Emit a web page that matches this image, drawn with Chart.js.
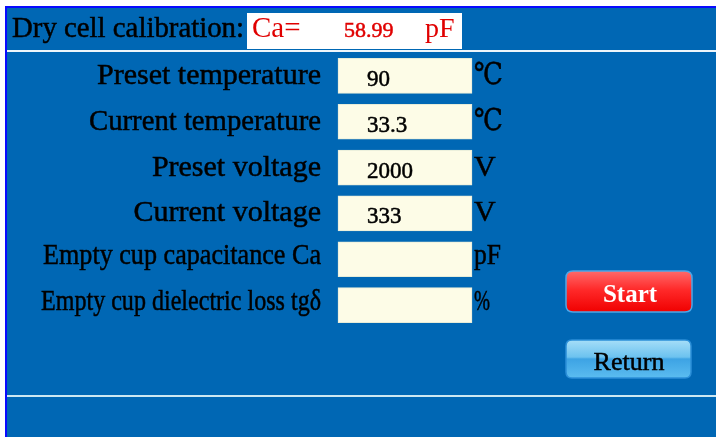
<!DOCTYPE html>
<html>
<head>
<meta charset="utf-8">
<script src="https://cdn.jsdelivr.net/npm/chart.js@4/dist/chart.umd.min.js"></script>
<style>
body{margin:0;background:#fff}
canvas{display:block}
</style>
</head>
<body>
<canvas id="panel" width="716" height="437"></canvas>
<script>
const rowLabels = ["Preset temperature", "Current temperature", "Preset voltage", "Current voltage", "Empty cup capacitance Ca", "Empty cup dielectric loss tgδ"]
const rowValues = [90, 33.3, 2000, 333, null, null]
const rowUnits = ["℃", "℃", "V", "V", "pF", "%"]
const titleText = "Dry cell calibration:"
const caLabel = "Ca="
const caValue = 58.99
const caUnit = "pF"
const buttonLabels = ["Start", "Return"]

const W = 716, H = 437
const serif = '"Liberation Serif", "DejaVu Serif", serif'
// layout of the input boxes and text squeeze (not data)
const boxLeft = 338, boxRight = 472
const labelMaxW = [224, 232, 170, 190, 278, 280]
const unitMaxW = [29, 29, 26, 26, 27, 16]

function pathRound(ctx, x, y, w, h, r){
	ctx.beginPath()
	ctx.moveTo(x + r, y)
	ctx.lineTo(x + w - r, y)
	ctx.quadraticCurveTo(x + w, y, x + w, y + r)
	ctx.lineTo(x + w, y + h - r)
	ctx.quadraticCurveTo(x + w, y + h, x + w - r, y + h)
	ctx.lineTo(x + r, y + h)
	ctx.quadraticCurveTo(x, y + h, x, y + h - r)
	ctx.lineTo(x, y + r)
	ctx.quadraticCurveTo(x, y, x + r, y)
	ctx.closePath()
}

function heavyText(ctx, txt, x, y, maxW){
	ctx.lineWidth = 0.5
	ctx.strokeStyle = ctx.fillStyle
	if(maxW){
		ctx.fillText(txt, x, y, maxW)
		ctx.strokeText(txt, x, y, maxW)
	}
	else{
		ctx.fillText(txt, x, y)
		ctx.strokeText(txt, x, y)
	}
}

const panelPlugin = {
	id: "panel",
	beforeDraw(chart){
		const ctx = chart.ctx
		ctx.save()
		ctx.fillStyle = "#ffffff"
		ctx.fillRect(0, 0, W, H)
		// frame + body
		ctx.fillStyle = "#0a0aff"
		ctx.fillRect(5, 6, W - 5, H - 6)
		ctx.fillStyle = "#0067b4"
		ctx.fillRect(7, 8, W - 7, H - 8)
		ctx.fillStyle = "#eef6fb"
		ctx.fillRect(7, 50, W - 7, 2)
		ctx.fillStyle = "#cde8f2"
		ctx.fillRect(7, 395, W - 7, 2)

		// header
		ctx.textBaseline = "alphabetic"
		ctx.textAlign = "left"
		ctx.fillStyle = "#000"
		ctx.font = "29px " + serif
		heavyText(ctx, titleText, 12, 37, 232)
		ctx.fillStyle = "#ffffff"
		ctx.fillRect(247, 13, 215, 36)
		ctx.fillStyle = "#e00000"
		ctx.font = "29px " + serif
		ctx.fillText(caLabel, 252, 37)
		ctx.font = "22px " + serif
		heavyText(ctx, caValue.toFixed(2), 344, 37, 52)
		ctx.font = "28px " + serif
		ctx.fillText(caUnit, 425, 37)

		// Start button
		let g = ctx.createLinearGradient(0, 271, 0, 312)
		g.addColorStop(0, "#ff6a6a")
		g.addColorStop(0.45, "#ff2a2a")
		g.addColorStop(1, "#f00000")
		pathRound(ctx, 566, 271, 126, 41, 7)
		ctx.fillStyle = g
		ctx.fill()
		ctx.lineWidth = 1.5
		ctx.strokeStyle = "#4da6e6"
		ctx.stroke()
		ctx.textAlign = "center"
		ctx.fillStyle = "#ffffff"
		ctx.font = "bold 25px " + serif
		ctx.fillText(buttonLabels[0], 630, 302)

		// Return button
		g = ctx.createLinearGradient(0, 340, 0, 378)
		g.addColorStop(0, "#a6def8")
		g.addColorStop(0.45, "#6cc2ef")
		g.addColorStop(0.5, "#3da3e4")
		g.addColorStop(1, "#5bbcf0")
		pathRound(ctx, 566, 340, 125, 38, 6)
		ctx.fillStyle = g
		ctx.fill()
		ctx.lineWidth = 1.5
		ctx.strokeStyle = "#2b8fd8"
		ctx.stroke()
		ctx.fillStyle = "#000"
		ctx.font = "26px " + serif
		heavyText(ctx, buttonLabels[1], 629, 370)
		ctx.restore()
	},
	afterDatasetsDraw(chart){
		const ctx = chart.ctx
		const xs = chart.scales.x, ys = chart.scales.y
		const left = xs.getPixelForValue(boxLeft)
		const right = xs.getPixelForValue(boxRight)
		ctx.save()
		ctx.fillStyle = "#000"
		ctx.textBaseline = "alphabetic"
		rowLabels.forEach((lab, i) => {
			const y = ys.getPixelForValue(i)
			const dy = i < 4 ? 8 : 5
			ctx.textAlign = "right"
			ctx.font = "30px " + serif
			heavyText(ctx, lab, left - 17, y + dy, labelMaxW[i])
			ctx.textAlign = "left"
			if(rowValues[i] != null){
				ctx.font = "23px " + serif
				heavyText(ctx, String(rowValues[i]), left + 29, y + 10)
			}
			ctx.font = "30px " + serif
			heavyText(ctx, rowUnits[i], right + 2, y + dy, unitMaxW[i])
		})
		ctx.restore()
	}
}

new Chart(document.getElementById("panel"), {
	type: "bar",
	data: {
		labels: rowLabels,
		datasets: [{
			data: rowLabels.map(() => [boxLeft, boxRight]),
			backgroundColor: "#fdfce7",
			borderColor: "#e6ecd8",
			borderWidth: 1,
			borderSkipped: false,
			barThickness: 35
		}]
	},
	options: {
		indexAxis: "y",
		responsive: false,
		animation: false,
		devicePixelRatio: 1,
		layout: {padding: {top: 53, bottom: 109, left: 0, right: 0}},
		scales: {
			x: {display: false, min: 0, max: W},
			y: {display: false}
		},
		plugins: {legend: {display: false}, tooltip: {enabled: false}}
	},
	plugins: [panelPlugin]
})
</script>
</body>
</html>
